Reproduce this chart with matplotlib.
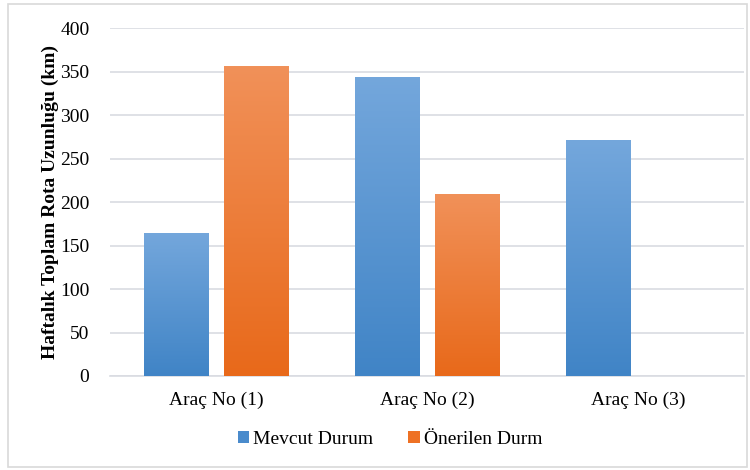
import numpy as np
import matplotlib.pyplot as plt
from matplotlib.colors import LinearSegmentedColormap
from matplotlib.patches import Rectangle, Patch

plt.rcParams['font.family'] = ['Liberation Serif', 'DejaVu Serif']

# veri
categories = ['Araç No (1)', 'Araç No (2)', 'Araç No (3)']
mevcut = [165, 344, 271]
onerilen = [356, 209, 0]
series_names = ['Mevcut Durum', 'Önerilen Durm']

blue_grad = LinearSegmentedColormap.from_list('b', ['#4084C6', '#74A7DC'])
orange_grad = LinearSegmentedColormap.from_list('o', ['#E8691A', '#F19159'])

fig = plt.figure(figsize=(7.5, 4.7), dpi=100)
ax = fig.add_axes([0.147, 0.2, 0.845, 0.74])

x = np.arange(len(categories))
w = 0.305
off = 0.19

bars1 = ax.bar(x - off, mevcut, w, color='none', zorder=3)
bars2 = ax.bar(x + off, onerilen, w, color='none', zorder=3)

# dikey gradyan dolgu
grad = np.linspace(0, 1, 256).reshape(-1, 1)
for bars, cmap in [(bars1, blue_grad), (bars2, orange_grad)]:
    for b in bars:
        h = b.get_height()
        if h <= 0:
            continue
        x0 = b.get_x()
        im = ax.imshow(grad, cmap=cmap, aspect='auto', origin='lower',
                       extent=(x0, x0 + b.get_width(), 0, h), zorder=3)
        im.set_clip_path(b)

ax.set_xlim(-0.5, 2.5)
ax.set_ylim(0, 400)
ax.set_yticks(np.arange(0, 401, 50))
ax.set_xticks(x)
ax.set_xticklabels(categories)

ax.yaxis.grid(True, color='#D9DCE2', linewidth=1.2, zorder=0)
ax.set_axisbelow(True)
for s in ['top', 'right', 'left']:
    ax.spines[s].set_visible(False)
ax.spines['bottom'].set_color('#D9DCE2')
ax.spines['bottom'].set_linewidth(1.2)
ax.tick_params(axis='both', length=0, labelsize=14, colors='#000000')
ax.tick_params(axis='x', pad=11)
ax.tick_params(axis='y', pad=15)

ax.set_ylabel('Haftalık Toplam Rota Uzunluğu (km)', fontsize=14,
              fontweight='bold', labelpad=1)

handles = [Patch(facecolor='#4A8BCC'), Patch(facecolor='#EE7124')]
fig.legend(handles, series_names, loc='center', bbox_to_anchor=(0.52, 0.065),
           ncol=2, frameon=False, fontsize=14, handlelength=0.6,
           handleheight=0.6, handletextpad=0.2, columnspacing=1.8)

# dış çerçeve
fig.patches.append(Rectangle((0.011, 0.006), 0.985, 0.985, transform=fig.transFigure,
                             fill=False, edgecolor='#D9D9D9', linewidth=1.2))

fig.savefig('out.png', dpi=100)
